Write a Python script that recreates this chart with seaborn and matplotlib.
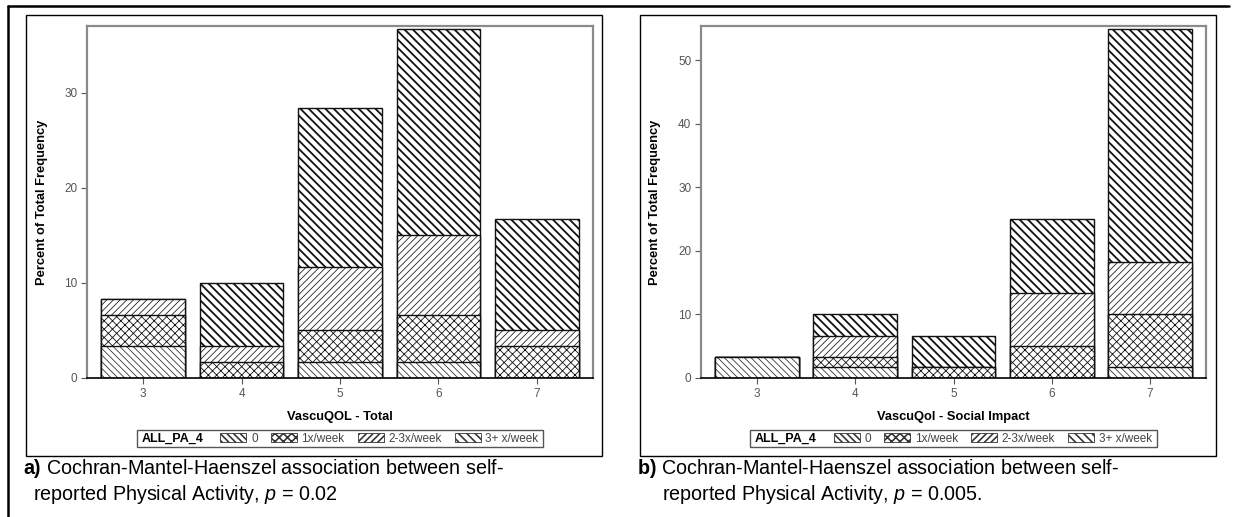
import numpy as np
import pandas as pd
import matplotlib
matplotlib.use("Agg")
import matplotlib.pyplot as plt
import seaborn as sns
from matplotlib.patches import Patch, Rectangle
from matplotlib.lines import Line2D

# ---------------- data ----------------
categories = ["3", "4", "5", "6", "7"]
levels = ["0", "1x/week", "2-3x/week", "3+ x/week"]

# Panel a: VascuQOL - Total (percent of total frequency per PA level)
total_pa0 = [3.33, 0.00, 1.67, 1.67, 0.00]
total_pa1 = [3.33, 1.67, 3.33, 5.00, 3.33]
total_pa2 = [1.67, 1.67, 6.67, 8.33, 1.67]
total_pa3 = [0.00, 6.67, 16.67, 21.67, 11.67]

# Panel b: VascuQol - Social Impact
social_pa0 = [3.33, 1.67, 0.00, 0.00, 1.67]
social_pa1 = [0.00, 1.67, 1.67, 5.00, 8.33]
social_pa2 = [0.00, 3.33, 0.00, 8.33, 8.33]
social_pa3 = [0.00, 3.33, 5.00, 11.67, 36.67]

yticks_a = [0, 10, 20, 30]
yticks_b = [0, 10, 20, 30, 40, 50]

# ---------------- style ----------------
sns.set_theme(style="white")
plt.rcParams["font.family"] = ["Liberation Sans", "DejaVu Sans"]
plt.rcParams["mathtext.fontset"] = "custom"
plt.rcParams["mathtext.rm"] = "Liberation Sans"
plt.rcParams["mathtext.it"] = "Liberation Sans:italic"
plt.rcParams["mathtext.bf"] = "Liberation Sans:bold"

hatches = ["\\" * 5, "x" * 4, "/" * 5, "\\" * 4]
hatch_lw = [0.5, 0.6, 0.55, 1.3]

W, H = 1235, 517
fig = plt.figure(figsize=(W / 100, H / 100), dpi=100)
fig.patch.set_facecolor("white")


def fx(px):
    return px / W


def fy(py):
    return 1 - py / H


def set_hlw(patches, lw):
    for p in patches:
        try:
            p.set_hatch_linewidth(lw)
        except Exception:
            pass


def draw_panel(ax, layers, xlabel, ymax, yticks, ylab_x):
    cum = np.cumsum(np.array(layers, dtype=float), axis=0)
    for i in range(len(levels) - 1, -1, -1):
        df = pd.DataFrame({"score": categories, "pct": cum[i]})
        plt.rcParams["hatch.linewidth"] = hatch_lw[i]
        n0 = len(ax.patches)
        sns.barplot(data=df, x="score", y="pct", ax=ax, color="white",
                    saturation=1, width=0.85, edgecolor="#111111",
                    linewidth=1.0, hatch=hatches[i], errorbar=None)
        set_hlw(ax.patches[n0:], hatch_lw[i])
    ax.set_xlim(-0.57, 4.57)
    ax.set_ylim(0, ymax)
    ax.set_yticks(yticks)
    for s in ["left", "top", "right"]:
        ax.spines[s].set_color("#8a8a8a")
        ax.spines[s].set_linewidth(1.6)
    ax.spines["bottom"].set_color("black")
    ax.spines["bottom"].set_linewidth(1.2)
    ax.tick_params(axis="both", direction="out", length=4, width=0.8,
                   color="#555555", labelcolor="#555555", labelsize=8.5,
                   left=True, bottom=True, pad=3)
    ax.set_xlabel(xlabel, fontsize=9.3, fontweight="bold", color="black")
    ax.set_ylabel("Percent of Total Frequency", fontsize=9.3,
                  fontweight="bold", color="black")
    ax.xaxis.set_label_coords(0.5, -0.111)
    ax.xaxis.label.set_va("center")
    ax.yaxis.set_label_coords(ylab_x, 0.5)
    ax.yaxis.label.set_va("center")
    ax.grid(False)


# axes
ax1 = fig.add_axes([fx(87), fy(378), fx(593 - 87), (378 - 26) / H])
ax2 = fig.add_axes([fx(701), fy(378), fx(1206 - 701), (378 - 26) / H])

draw_panel(ax1, [total_pa0, total_pa1, total_pa2, total_pa3],
           "VascuQOL - Total", 37.0, yticks_a, -0.089)
draw_panel(ax2, [social_pa0, social_pa1, social_pa2, social_pa3],
           "VascuQol - Social Impact", 55.4, yticks_b, -0.091)

# panel boxes
for x0, x1 in [(26, 602), (640, 1216)]:
    fig.add_artist(Rectangle((fx(x0), fy(456)), fx(x1 - x0), (456 - 15) / H,
                             transform=fig.transFigure, fill=False,
                             edgecolor="black", linewidth=1.0))

# outer thick lines
fig.add_artist(Line2D([fx(8), fx(1229)], [fy(6), fy(6)], color="black",
                      linewidth=1.8, transform=fig.transFigure))
fig.add_artist(Line2D([fx(8), fx(8)], [fy(6), fy(517)], color="black",
                      linewidth=1.8, transform=fig.transFigure))

# legends
fig.canvas.draw()
renderer = fig.canvas.get_renderer()


def make_legend(center_px, yc_px):
    handles = []
    for i, lab in enumerate(levels):
        plt.rcParams["hatch.linewidth"] = hatch_lw[i] * 0.9
        p = Patch(facecolor="white", edgecolor="#333333", hatch=hatches[i],
                  linewidth=0.6, label=lab)
        set_hlw([p], hatch_lw[i] * 0.9)
        handles.append(p)
    t = fig.text(0, fy(yc_px), "ALL_PA_4", fontsize=9, fontweight="bold",
                 ha="left", va="center", color="black")
    leg = fig.legend(handles=handles, ncol=4, frameon=False, fontsize=8.5,
                     loc="center left", bbox_to_anchor=(0, fy(yc_px)),
                     handlelength=2.2, handleheight=0.9, handletextpad=0.4,
                     columnspacing=1.1, borderpad=0, borderaxespad=0,
                     labelcolor="#444444")
    fig.canvas.draw()
    tb = t.get_window_extent(renderer)
    lb = leg.get_window_extent(renderer)
    tw = tb.width
    lw_ = lb.width
    gap = 17
    pad = 5
    total = pad + tw + gap + lw_ + pad
    left = center_px - total / 2
    t.set_x(fx(left + pad))
    leg.set_bbox_to_anchor((fx(left + pad + tw + gap), fy(yc_px)),
                           transform=fig.transFigure)
    fig.add_artist(Rectangle((fx(left), fy(yc_px + 8.5)), fx(total), 17 / H,
                             transform=fig.transFigure, fill=False,
                             edgecolor="#555555", linewidth=1.0))


make_legend(340, 438.5)
make_legend(953.5, 438.5)

# captions
cap_fs = 14.2
fig.text(fx(23), fy(474), r"$\mathbf{a)}$ Cochran-Mantel-Haenszel association between self-",
         fontsize=cap_fs, ha="left", va="baseline", color="black")
fig.text(fx(33), fy(500), r"reported Physical Activity, $\mathit{p}$ = 0.02",
         fontsize=cap_fs, ha="left", va="baseline", color="black")
fig.text(fx(637), fy(474), r"$\mathbf{b)}$ Cochran-Mantel-Haenszel association between self-",
         fontsize=cap_fs, ha="left", va="baseline", color="black")
fig.text(fx(662), fy(500), r"reported Physical Activity, $\mathit{p}$ = 0.005.",
         fontsize=cap_fs, ha="left", va="baseline", color="black")

fig.savefig("out.png", dpi=100, facecolor="white")
